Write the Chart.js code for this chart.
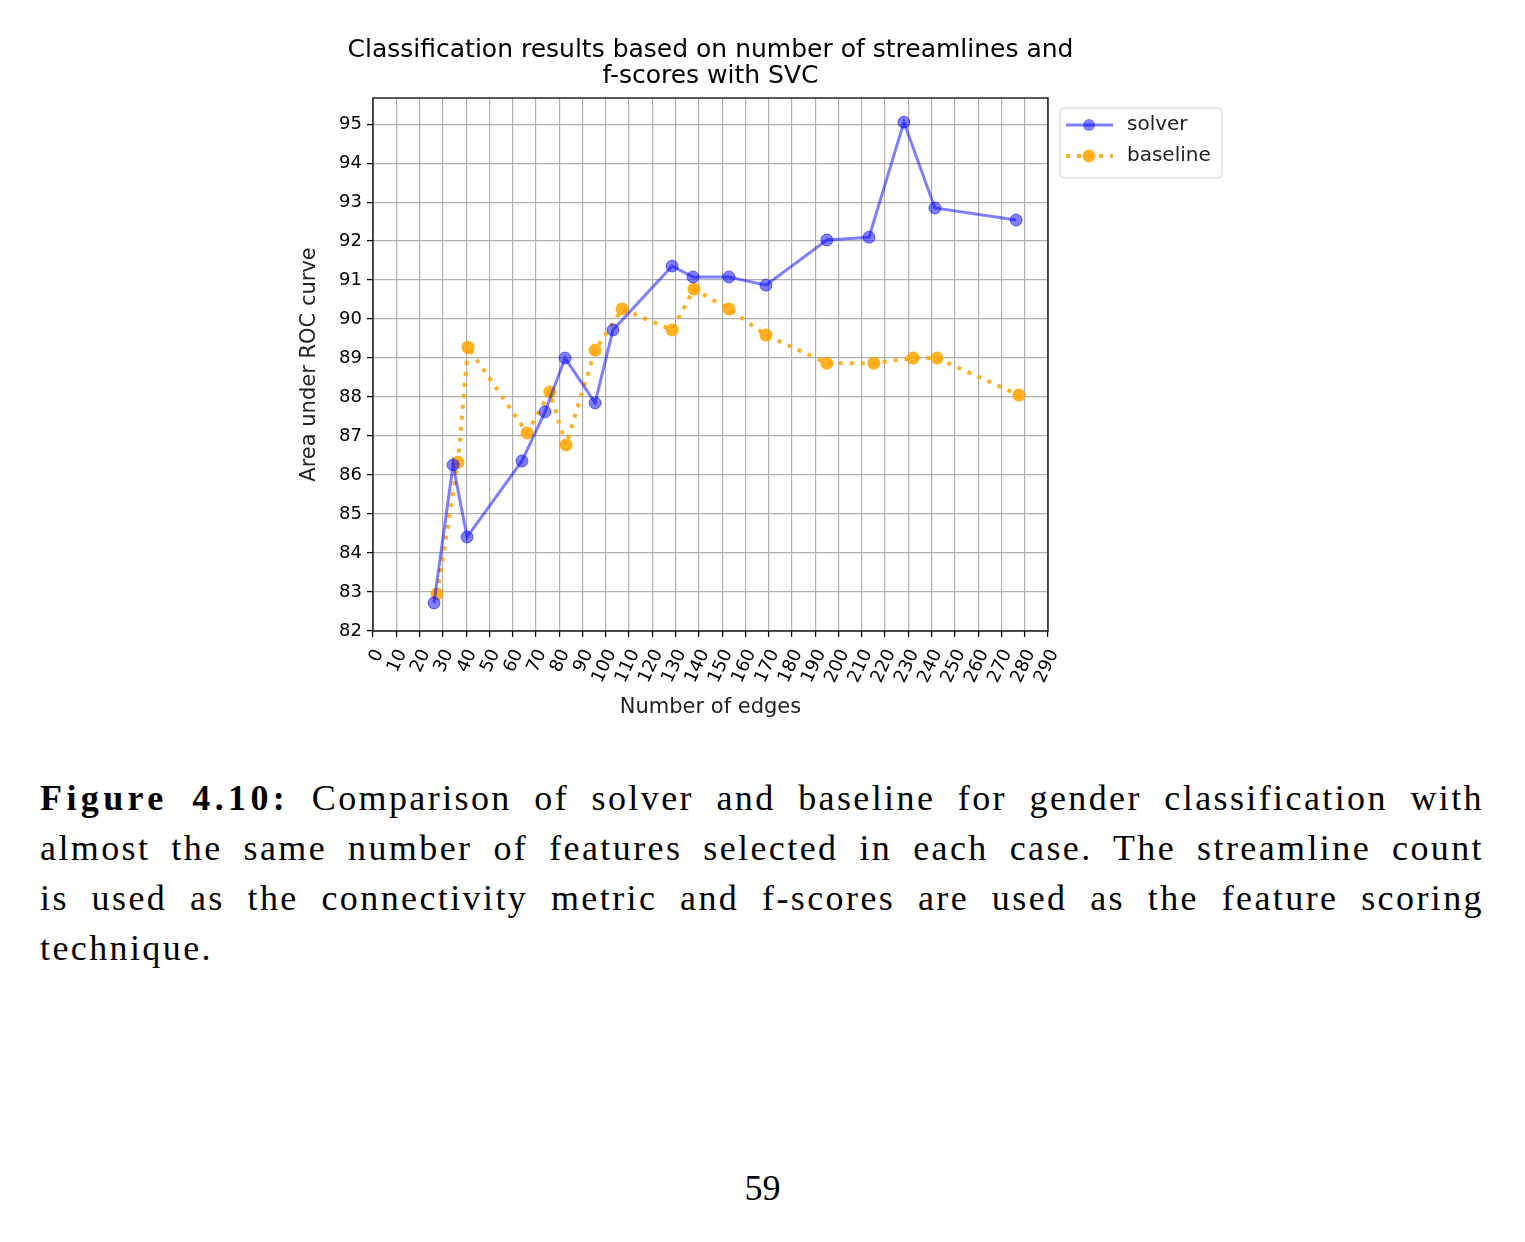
<!DOCTYPE html>
<html>
<head>
<meta charset="utf-8">
<script src="https://cdn.jsdelivr.net/npm/chart.js@4.4.1/dist/chart.umd.min.js"></script>
<style>
  body { margin: 0; background: #fff; width: 1525px; height: 1242px; position: relative; overflow: hidden; }
  #wrap { position: absolute; left: 0; top: 0; width: 1525px; height: 740px; }
  .cap { position: absolute; left: 40px; width: 1444px; font-family: "Liberation Serif", "DejaVu Serif", serif; font-size: 36px; letter-spacing: 2.4px; color: #000; }
  .cap b { letter-spacing: 4.4px; }
  .cap div { height: 50px; line-height: 50px; text-align: justify; text-align-last: justify; white-space: nowrap; }
  .cap div.last { text-align-last: left; }
  #pg { position: absolute; left: 0; width: 1525px; top: 1167px; text-align: center; font-family: "Liberation Serif", serif; font-size: 36px; }
</style>
</head>
<body>
<div id="wrap"><canvas id="chart" width="1525" height="740"></canvas></div>
<div class="cap" style="top:773px;">
  <div><b>Figure 4.10:</b> Comparison of solver and baseline for gender classification with</div>
  <div>almost the same number of features selected in each case. The streamline count</div>
  <div>is used as the connectivity metric and f-scores are used as the feature scoring</div>
  <div class="last">technique.</div>
</div>
<div id="pg">59</div>
<script>
// values
var solverEdges = [26.2, 34.4, 40.4, 64.0, 73.9, 82.5, 95.4, 103.1, 128.5, 137.5, 152.9, 168.8, 195.0, 213.1, 228.1, 241.4, 276.3];
var solverAuc   = [82.72, 86.26, 84.41, 86.36, 87.62, 89.0, 87.85, 89.72, 91.36, 91.08, 91.08, 90.87, 92.03, 92.1, 95.05, 92.85, 92.54];
var baselineEdges = [27.5, 36.5, 40.8, 66.2, 76.0, 82.9, 95.4, 107.0, 128.5, 137.9, 152.9, 168.8, 195.0, 215.2, 232.0, 242.3, 277.5];
var baselineAuc   = [82.95, 86.33, 89.28, 87.08, 88.13, 86.77, 89.2, 90.26, 89.72, 90.77, 90.26, 89.59, 88.87, 88.87, 89.0, 89.0, 88.05];
var xTicks = [0, 10, 20, 30, 40, 50, 60, 70, 80, 90, 100, 110, 120, 130, 140, 150, 160, 170, 180, 190, 200, 210, 220, 230, 240, 250, 260, 270, 280, 290];
var yTicks = [82, 83, 84, 85, 86, 87, 88, 89, 90, 91, 92, 93, 94, 95];
var titleLines = ["Classification results based on number of streamlines and", "f-scores with SVC"];

function pts(xs, ys) {
  return xs.map(function(x, i) { return { x: x, y: ys[i] }; });
}

var FONT = "'DejaVu Sans', sans-serif";
var blue = "rgba(0,0,255,0.5)";
var orange = "rgba(255,165,0,0.85)";

// frame, title (wider than the plot, so drawn here) and legend to the right
var framePlugin = {
  id: "frame",
  afterDraw: function(chart) {
    var ctx = chart.ctx, a = chart.chartArea;
    ctx.save();
    ctx.strokeStyle = "#000";
    ctx.lineWidth = 1.3;
    ctx.strokeRect(a.left, a.top, a.right - a.left, a.bottom - a.top);

    // title
    ctx.fillStyle = "#000";
    ctx.font = "25px " + FONT;
    ctx.textAlign = "center";
    ctx.textBaseline = "alphabetic";
    var cx = (a.left + a.right) / 2;
    titleLines.forEach(function(t, i) {
      ctx.fillText(t, cx, a.top - 41 + i * 26);
    });

    // legend box
    var lx = a.right + 12, ly = a.top + 10, lw = 162, lh = 70;
    ctx.strokeStyle = "#d0d0d0";
    ctx.lineWidth = 1;
    ctx.beginPath();
    if (ctx.roundRect) ctx.roundRect(lx, ly, lw, lh, 4); else ctx.rect(lx, ly, lw, lh);
    ctx.fillStyle = "rgba(255,255,255,0.8)";
    ctx.fill();
    ctx.stroke();

    var ds = chart.data.datasets;
    ds.forEach(function(d, i) {
      var y = ly + 17 + i * 31;
      ctx.strokeStyle = d.borderColor;
      ctx.lineWidth = d.borderWidth;
      ctx.setLineDash(d.borderDash || []);
      ctx.lineCap = "butt";
      ctx.beginPath();
      ctx.moveTo(lx + 6, y);
      ctx.lineTo(lx + 53, y);
      ctx.stroke();
      ctx.setLineDash([]);
      ctx.beginPath();
      ctx.arc(lx + 29, y, d.pointRadius, 0, Math.PI * 2);
      ctx.fillStyle = d.pointBackgroundColor;
      ctx.fill();
      ctx.fillStyle = "#222";
      ctx.font = "20px " + FONT;
      ctx.textBaseline = "middle";
      ctx.textAlign = "left";
      ctx.fillText(d.label, lx + 67, y);
    });
    ctx.restore();
  }
};

var chart = new Chart(document.getElementById("chart").getContext("2d"), {
  type: "line",
  data: {
    datasets: [
      {
        label: "solver",
        data: pts(solverEdges, solverAuc),
        borderColor: blue,
        borderWidth: 3,
        pointRadius: 6,
        pointBackgroundColor: blue,
        pointBorderColor: blue,
        pointBorderWidth: 1,
        tension: 0
      },
      {
        label: "baseline",
        data: pts(baselineEdges, baselineAuc),
        borderColor: orange,
        borderWidth: 4,
        borderDash: [4, 7],
        borderCapStyle: "butt",
        pointRadius: 6.5,
        pointBackgroundColor: orange,
        pointBorderColor: orange,
        pointBorderWidth: 0,
        tension: 0
      }
    ]
  },
  options: {
    responsive: false,
    animation: false,
    events: [],
    layout: { padding: { left: 290, right: 477, top: 98, bottom: 14 } },
    plugins: {
      legend: { display: false },
      tooltip: { enabled: false },
      title: { display: false }
    },
    scales: {
      x: {
        type: "linear",
        min: 0,
        max: 290,
        afterBuildTicks: function(s) { s.ticks = xTicks.map(function(v) { return { value: v }; }); },
        afterFit: function(s) { s.height = 95; },
        ticks: {
          autoSkip: false,
          minRotation: 65,
          maxRotation: 65,
          color: "#000",
          padding: 9,
          labelOffset: 6,
          font: { family: FONT, size: 18 }
        },
        grid: { color: "#b0b0b0", lineWidth: 1.2, tickColor: "#000", tickLength: 6, tickWidth: 1.3 },
        border: { display: false },
        title: {
          display: true,
          text: "Number of edges",
          color: "#222",
          font: { family: FONT, size: 21 },
          padding: { top: 4, bottom: 6 }
        }
      },
      y: {
        min: 82,
        max: 95.67,
        afterBuildTicks: function(s) { s.ticks = yTicks.map(function(v) { return { value: v }; }); },
        afterFit: function(s) { s.width = 83; },
        ticks: {
          color: "#000",
          padding: 5,
          font: { family: FONT, size: 18 }
        },
        grid: { color: "#b0b0b0", lineWidth: 1.2, tickColor: "#000", tickLength: 6, tickWidth: 1.3 },
        border: { display: false },
        title: {
          display: true,
          text: "Area under ROC curve",
          color: "#222",
          font: { family: FONT, size: 21 },
          padding: { top: 7, bottom: 4 }
        }
      }
    }
  },
  plugins: [framePlugin]
});
</script>
</body>
</html>
